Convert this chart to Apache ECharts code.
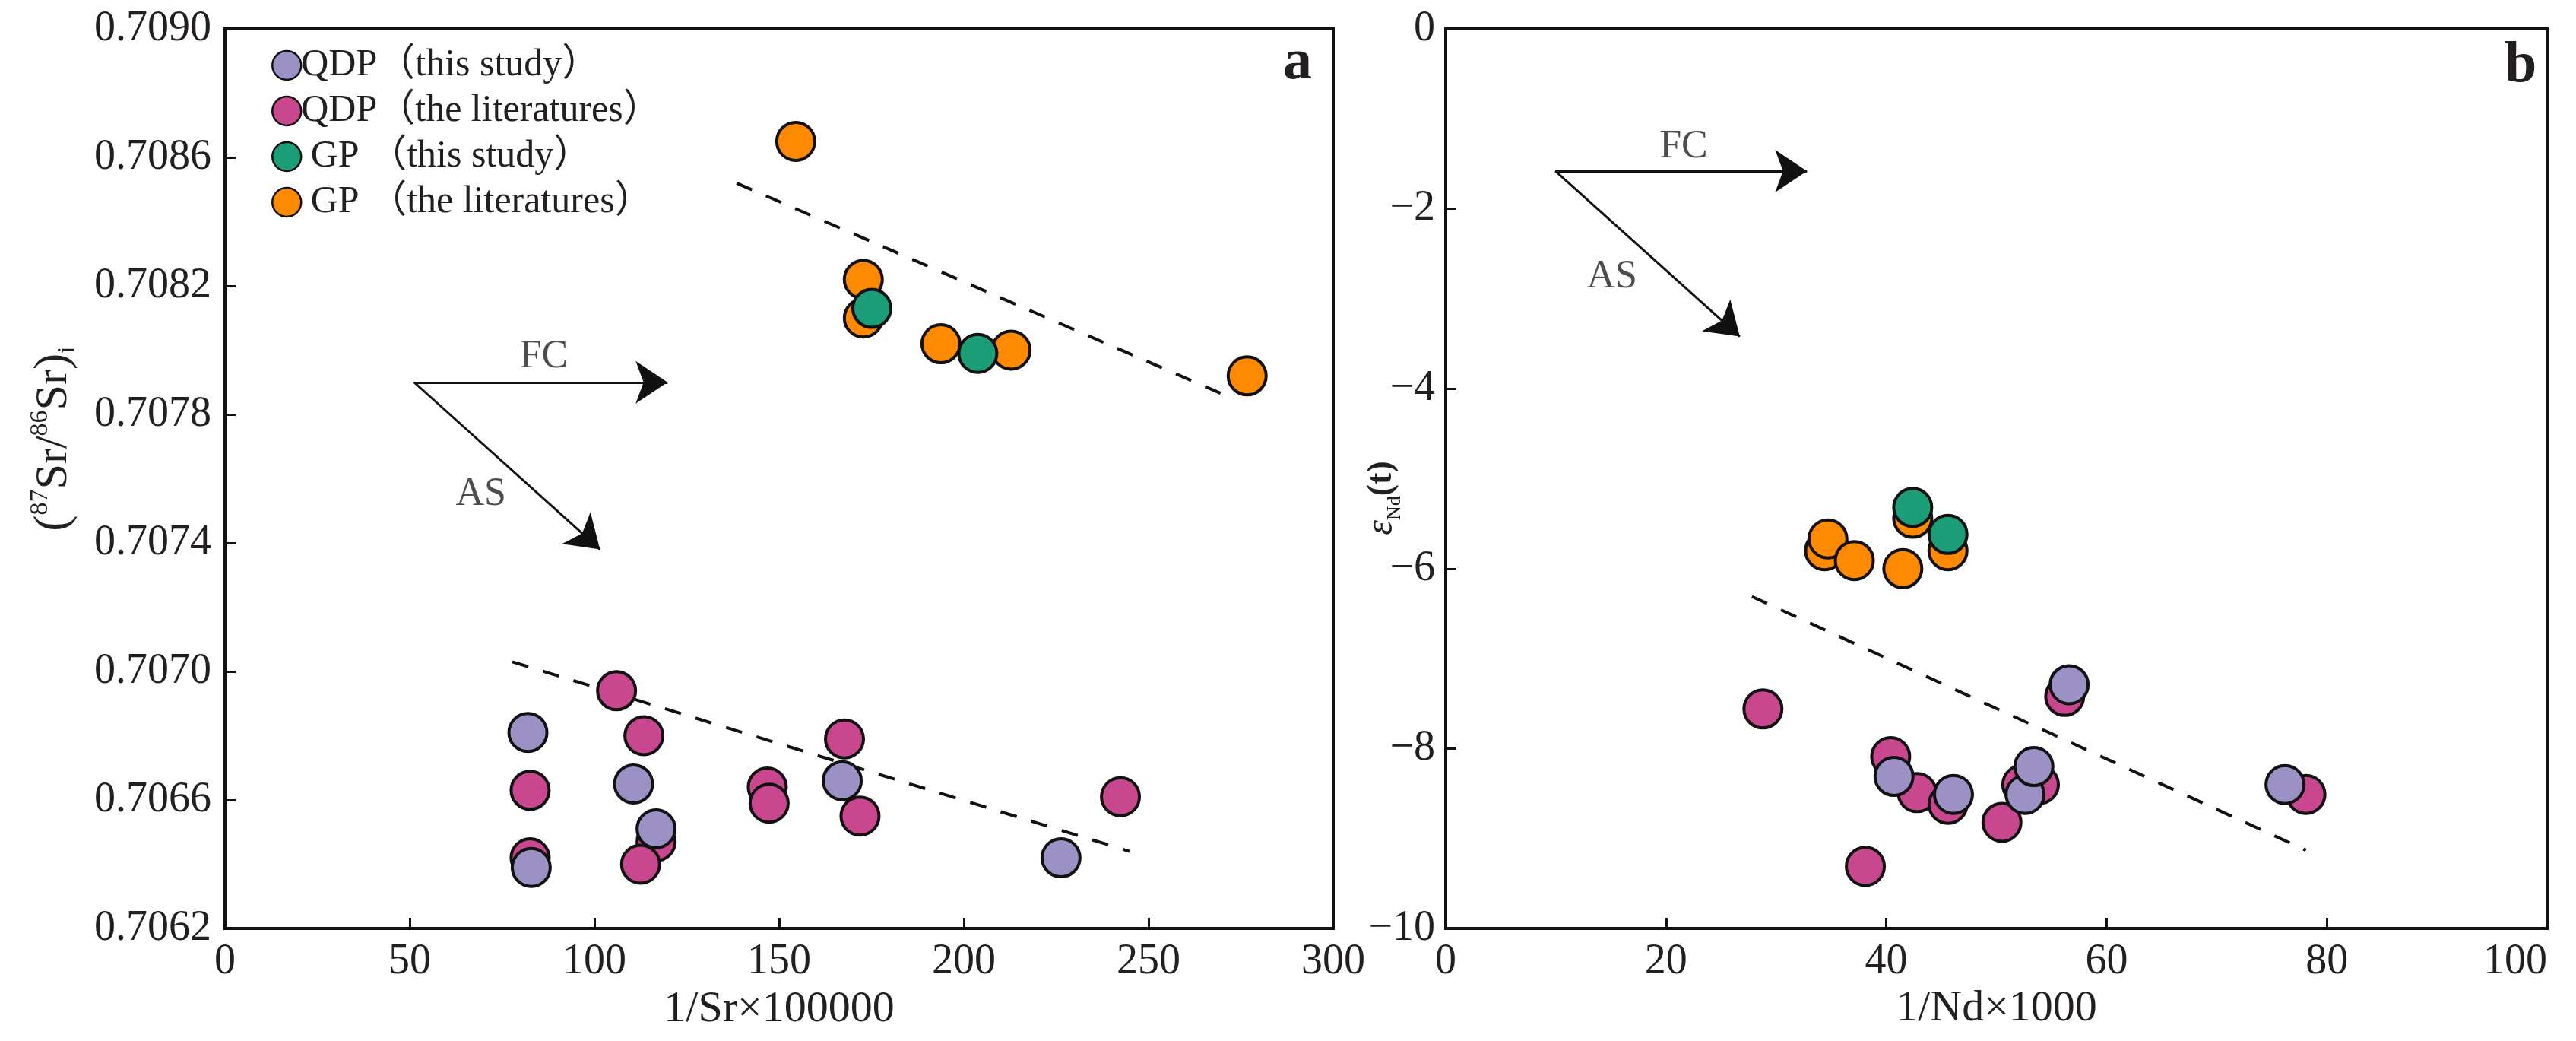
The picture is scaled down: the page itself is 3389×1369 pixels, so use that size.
<!DOCTYPE html>
<html>
<head>
<meta charset="utf-8">
<script src="https://cdn.jsdelivr.net/npm/echarts@6/dist/echarts.min.js"></script>
<style>
  html, body { margin: 0; padding: 0; background: #fff; }
  #chart { width: 3389px; height: 1369px; }
</style>
</head>
<body>
<div id="chart"></div>
<script>
// legend names
const names = ['QDP（this study）', 'QDP（the literatures）', ' GP （this study）', ' GP （the literatures）'];
const colors = ['#9c91c4', '#c9478e', '#1b9e77', '#ff8a00'];

// panel a: 1/Sr*100000 vs (87Sr/86Sr)i
const srX_qdpThis = [82.0, 110.6, 116.7, 82.9, 167.1, 226.3];
const srY_qdpThis = [0.70681, 0.70665, 0.70651, 0.70639, 0.70666, 0.70642];
const srX_qdpLit = [106.0, 113.4, 167.7, 82.6, 146.8, 147.3, 171.9, 242.4, 82.6, 116.7, 112.5];
const srY_qdpLit = [0.70694, 0.70680, 0.70679, 0.70663, 0.70664, 0.70659, 0.70655, 0.70661, 0.70642, 0.70647, 0.70640];
const srX_gpThis = [175.1, 203.8];
const srY_gpThis = [0.70813, 0.70799];
const srX_gpLit = [154.5, 172.8, 172.8, 193.8, 212.8, 276.7];
const srY_gpLit = [0.70865, 0.70822, 0.70810, 0.70802, 0.70800, 0.70792];
const srTrendUpX = [138.5, 269.7];
const srTrendUpY = [0.70852, 0.707865];
const srTrendLowX = [77.8, 244.9];
const srTrendLowY = [0.70703, 0.70644];
const srArrowFrom = [51.2, 0.70790];
const srArrowFC = [119.8, 0.70790];
const srArrowAS = [101.5, 0.70738];
const srTextX = [86.3, 69.3];
const srTextY = [0.70798, 0.70755];
const srTicks = [0.7062, 0.7090, 0.0004]; // min, max, step

// panel b: 1/Nd*1000 vs eNd(t)
const ndX_qdpThis = [40.7, 46.1, 52.6, 53.4, 56.6, 76.2];
const ndY_qdpThis = [-8.31, -8.51, -8.51, -8.20, -7.29, -8.40];
const ndX_qdpLit = [28.8, 40.4, 42.8, 45.6, 50.5, 38.1, 52.3, 53.9, 56.2, 78.1];
const ndY_qdpLit = [-7.56, -8.09, -8.49, -8.62, -8.82, -9.31, -8.40, -8.40, -7.42, -8.51];
const ndX_gpThis = [42.4, 45.6];
const ndY_gpThis = [-5.32, -5.62];
const ndX_gpLit = [34.4, 34.7, 37.1, 41.5, 42.4, 45.6];
const ndY_gpLit = [-5.80, -5.67, -5.91, -6.00, -5.44, -5.80];
const ndTrendX = [27.8, 78.1];
const ndTrendY = [-6.31, -9.13];
const ndArrowFrom = [9.95, -1.58];
const ndArrowFC = [32.8, -1.58];
const ndArrowAS = [26.7, -3.42];
const ndTextX = [21.6, 15.1];
const ndTextY = [-1.31, -2.76];
const arrowText = ['FC', 'AS'];

const FONT = "'Liberation Serif', 'Times New Roman', 'Noto Sans CJK SC', serif";
const INK = '#111';
const TXT = '#231f20';

// left y axis is drawn as offset*1e4 from its min so ticks start on a multiple of the step
const srToAxis = v => (v - srTicks[0]) * 10000;
const zip = (xs, ys, f) => xs.map((x, i) => [x, f ? f(ys[i]) : ys[i]]);

let chart = echarts.init(document.getElementById('chart'));

function axisCommon() {
  return {
    axisLine: { show: true, onZero: false, lineStyle: { color: INK, width: 4 } },
    axisTick: { show: true, inside: true, length: 14, lineStyle: { color: INK, width: 3 } },
    splitLine: { show: false },
    axisLabel: { fontFamily: FONT, fontSize: 56, color: TXT },
    nameTextStyle: { fontFamily: FONT, fontSize: 58, color: TXT }
  };
}

function pointSeries(name, i, data, gi, z) {
  return {
    name: name, type: 'scatter', xAxisIndex: gi, yAxisIndex: gi,
    data: data, symbol: 'circle', symbolSize: 50, z: z,
    itemStyle: { color: colors[i], borderColor: INK, borderWidth: 4, opacity: 1 }
  };
}

function trendSeries(data, gi) {
  return {
    type: 'line', xAxisIndex: gi, yAxisIndex: gi, data: data, showSymbol: false,
    symbol: 'none', silent: true, z: 1,
    lineStyle: { color: INK, width: 4, type: [22, 20] }
  };
}

function arrowSeries(from, ends, gi) {
  return {
    type: 'lines', coordinateSystem: 'cartesian2d', xAxisIndex: gi, yAxisIndex: gi,
    silent: true, z: 3,
    symbol: ['none', 'arrow'], symbolSize: [34, 42],
    lineStyle: { color: INK, width: 3, opacity: 1, curveness: 0 },
    data: ends.map(e => ({ coords: [from, e] }))
  };
}

function textSeries(xs, ys, gi) {
  return {
    type: 'scatter', xAxisIndex: gi, yAxisIndex: gi, silent: true, z: 3,
    symbolSize: 1, itemStyle: { color: 'rgba(0,0,0,0)' },
    data: xs.map((x, i) => ({ value: [x, ys[i]], name: arrowText[i] })),
    label: { show: true, position: 'inside', formatter: '{b}', fontFamily: FONT, fontSize: 52, color: TXT }
  };
}

let option = {
  backgroundColor: '#fff',
  animation: false,
  title: [
    { text: 'a', left: 1683, top: 40, textStyle: { fontFamily: FONT, fontSize: 76, fontWeight: 'bold', color: TXT } },
    { text: 'b', left: 3290, top: 44, textStyle: { fontFamily: FONT, fontSize: 76, fontWeight: 'bold', color: TXT } }
  ],
  // rotated y-axis titles with super/subscripts
  graphic: [
    {
      type: 'text', x: 71, y: 577, rotation: Math.PI / 2,
      style: {
        text: '{p|(}{sup|87}{t|Sr/}{sup|86}{t|Sr}{p|)}{sub|i}',
        align: 'center', verticalAlign: 'middle',
        rich: {
          t: { fontFamily: FONT, fontSize: 60, fill: TXT, lineHeight: 70 },
          p: { fontFamily: FONT, fontSize: 64, fill: TXT, lineHeight: 70 },
          sup: { fontFamily: FONT, fontSize: 34, fill: TXT, lineHeight: 36, verticalAlign: 'top' },
          sub: { fontFamily: FONT, fontSize: 34, fill: TXT, lineHeight: 36, verticalAlign: 'bottom' }
        }
      }
    },
    {
      type: 'text', x: 1818, y: 655, rotation: Math.PI / 2,
      style: {
        text: '{e|ε}{sub|Nd}{t|(t)}',
        align: 'center', verticalAlign: 'middle',
        rich: {
          e: { fontFamily: FONT, fontSize: 50, fontStyle: 'italic', fill: TXT, lineHeight: 60 },
          sub: { fontFamily: FONT, fontSize: 26, fill: TXT, lineHeight: 28, verticalAlign: 'bottom' },
          t: { fontFamily: FONT, fontSize: 46, fontWeight: 'bold', fill: TXT, lineHeight: 60 }
        }
      }
    }
  ],
  legend: {
    data: names,
    orient: 'vertical',
    left: 352, top: 56,
    icon: 'circle',
    itemWidth: 40, itemHeight: 38, itemGap: 10,
    itemStyle: { borderWidth: 2.5 },
    textStyle: { fontFamily: FONT, fontSize: 50, color: TXT, padding: [0, 0, 0, -6] },
    selectedMode: false
  },
  grid: [
    { left: 296, top: 38, width: 1458, height: 1183, show: true, borderColor: INK, borderWidth: 4, backgroundColor: '#fff' },
    { left: 1902, top: 38, width: 1449, height: 1183, show: true, borderColor: INK, borderWidth: 4, backgroundColor: '#fff' }
  ],
  xAxis: [
    Object.assign(axisCommon(), {
      type: 'value', gridIndex: 0, min: 0, max: 300, interval: 50,
      name: '1/Sr×100000', nameLocation: 'middle', nameGap: 78
    }),
    Object.assign(axisCommon(), {
      type: 'value', gridIndex: 1, min: 0, max: 100, interval: 20,
      name: '1/Nd×1000', nameLocation: 'middle', nameGap: 72
    })
  ],
  yAxis: [
    Object.assign(axisCommon(), {
      type: 'value', gridIndex: 0, min: 0, max: srToAxis(srTicks[1]), interval: srTicks[2] * 10000
    }),
    Object.assign(axisCommon(), {
      type: 'value', gridIndex: 1, min: -10, max: 0, interval: 2
    })
  ],
  series: [
    trendSeries(zip(srTrendUpX, srTrendUpY, srToAxis), 0),
    trendSeries(zip(srTrendLowX, srTrendLowY, srToAxis), 0),
    arrowSeries([srArrowFrom[0], srToAxis(srArrowFrom[1])],
      [[srArrowFC[0], srToAxis(srArrowFC[1])], [srArrowAS[0], srToAxis(srArrowAS[1])]], 0),
    textSeries(srTextX, srTextY.map(srToAxis), 0),
    pointSeries(names[1], 1, zip(srX_qdpLit, srY_qdpLit, srToAxis), 0, 4),
    pointSeries(names[0], 0, zip(srX_qdpThis, srY_qdpThis, srToAxis), 0, 5),
    pointSeries(names[3], 3, zip(srX_gpLit, srY_gpLit, srToAxis), 0, 6),
    pointSeries(names[2], 2, zip(srX_gpThis, srY_gpThis, srToAxis), 0, 7),

    trendSeries(zip(ndTrendX, ndTrendY), 1),
    arrowSeries(ndArrowFrom, [ndArrowFC, ndArrowAS], 1),
    textSeries(ndTextX, ndTextY, 1),
    pointSeries(names[1], 1, zip(ndX_qdpLit, ndY_qdpLit), 1, 4),
    pointSeries(names[0], 0, zip(ndX_qdpThis, ndY_qdpThis), 1, 5),
    pointSeries(names[3], 3, zip(ndX_gpLit, ndY_gpLit), 1, 6),
    pointSeries(names[2], 2, zip(ndX_gpThis, ndY_gpThis), 1, 7)
  ]
};

// axis label details
option.xAxis[0].axisLabel.margin = 16;
option.xAxis[1].axisLabel.margin = 16;
option.xAxis[1].axisLabel.alignMaxLabel = 'right';
option.yAxis[0].axisLabel.margin = 18;
option.yAxis[0].axisLabel.formatter = v => (srTicks[0] + v / 10000).toFixed(4);
option.yAxis[1].axisLabel.margin = 14;
option.yAxis[1].axisLabel.formatter = v => (v < 0 ? '−' + (-v) : String(v));

chart.setOption(option);
window.onresize = function () {
  chart.resize();
};
</script>
</body>
</html>
